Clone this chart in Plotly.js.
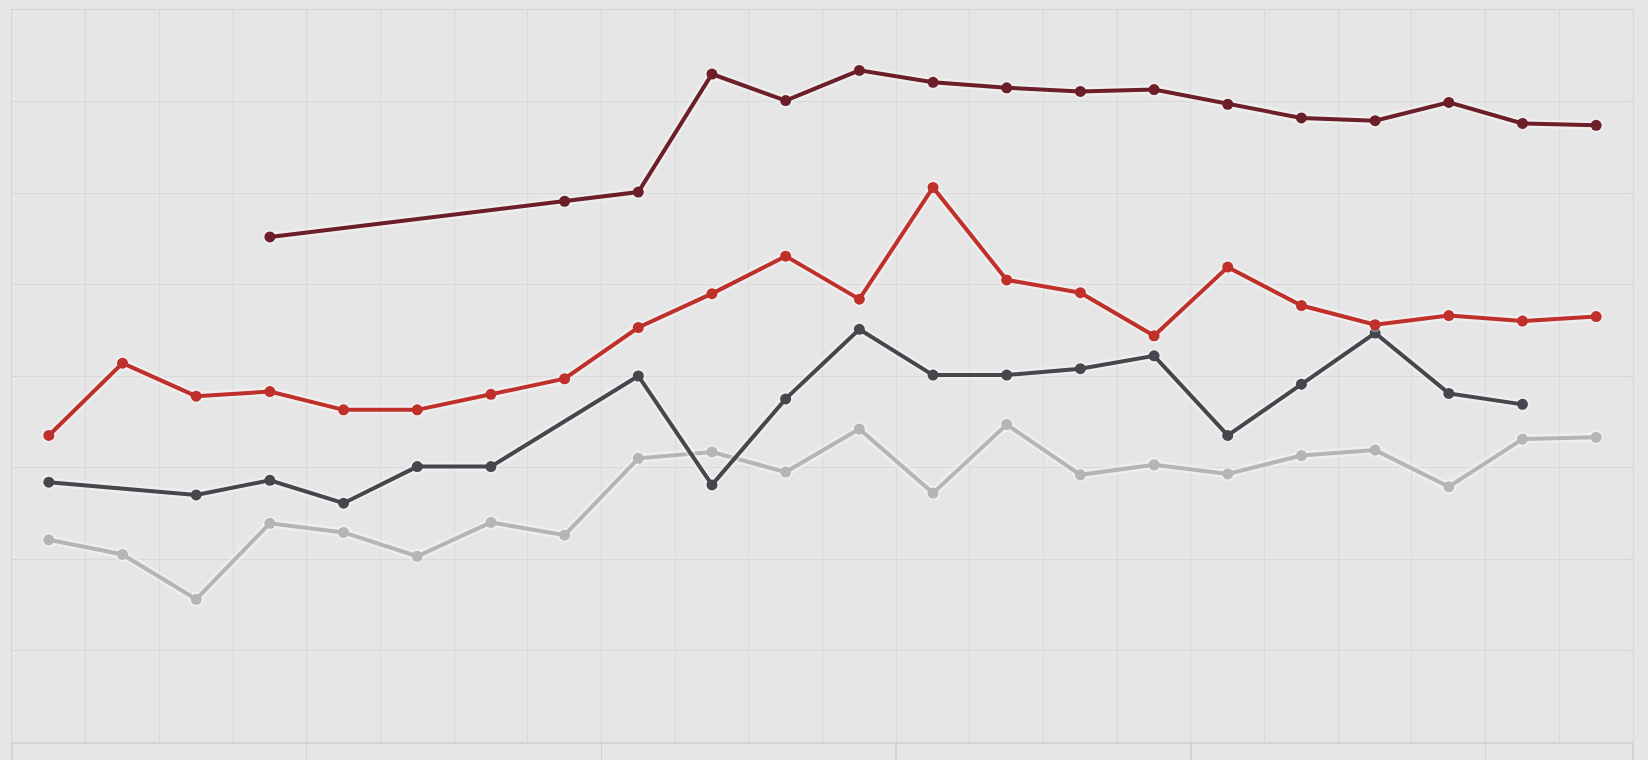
<!DOCTYPE html>
<html>
<head>
<meta charset="utf-8">
<script src="https://cdn.plot.ly/plotly-3.0.1.min.js"></script>
<style>
  html, body { margin: 0; padding: 0; overflow: hidden; background: #e6e6e6; }
  #chart { width: 1648px; height: 760px; }
</style>
</head>
<body>
<div id="chart"></div>
<script>
// Category levels (outer: year, inner: quarter)
var years = ['2019','2019','2019','2019','2020','2020','2020','2020','2021','2021','2021','2021',
             '2022','2022','2022','2022','2023','2023','2023','2023','2024','2024'];
var quarters = ['Q1','Q2','Q3','Q4','Q1','Q2','Q3','Q4','Q1','Q2','Q3','Q4',
                'Q1','Q2','Q3','Q4','Q1','Q2','Q3','Q4','Q1','Q2'];

// Series values (null = no observation)
var seriesMaroon = [null, null, null, 55.2, null, null, null, 59.1, 60.1, 73.0, 70.1, 73.4,
                    72.1, 71.5, 71.1, 71.3, 69.7, 68.2, 67.9, 69.9, 67.6, 67.4];
var seriesRed = [33.5, 41.4, 37.8, 38.3, 36.3, 36.3, 38.0, 39.7, 45.3, 49.0, 53.1, 48.4,
                 60.6, 50.5, 49.1, 44.4, 51.9, 47.7, 45.6, 46.6, 46.0, 46.5];
var seriesDark = [28.4, null, 27.0, 28.6, 26.1, 30.1, 30.1, null, 40.0, 28.1, 37.5, 45.1,
                  40.1, 40.1, 40.8, 42.2, 33.5, 39.1, 44.7, 38.1, 36.9, null];
var seriesLight = [22.1, 20.5, 15.6, 23.9, 22.9, 20.3, 24.0, 22.6, 31.0, 31.7, 29.5, 34.2,
                   27.2, 34.7, 29.2, 30.3, 29.3, 31.3, 31.9, 27.9, 33.1, 33.3];

var seriesNames = ['Series A', 'Series B', 'Series C', 'Series D'];
var seriesValues = [seriesLight, seriesDark, seriesRed, seriesMaroon];
var seriesColors = ['#b5b5b7', '#45474d', '#c0302a', '#6c1f29'];

// category keys built from the two levels
var periods = years.map(function (y, i) { return y + ' ' + quarters[i]; });

// year-group boundaries (in category index units), derived from the years array
var yearBounds = [-0.5];
for (var i = 1; i < years.length; i++) {
  if (years[i] !== years[i - 1]) yearBounds.push(i - 0.5);
}
yearBounds.push(years.length - 0.5);

var traces = [];
seriesValues.forEach(function (vals, i) {
  // soft light halo beneath the line
  traces.push({
    type: 'scatter', mode: 'lines+markers',
    x: periods, y: vals, connectgaps: true,
    line: { color: 'rgba(255,255,255,0.32)', width: 9 },
    marker: { color: 'rgba(255,255,255,0.32)', size: 15 },
    hoverinfo: 'skip', showlegend: false
  });
  traces.push({
    type: 'scatter', mode: 'lines+markers', name: seriesNames[i],
    x: periods, y: vals, connectgaps: true,
    line: { color: seriesColors[i], width: 4 },
    marker: { color: seriesColors[i], size: 11 }
  });
});
// invisible carrier trace for the year-divider axis
traces.push({
  type: 'scatter', mode: 'markers', xaxis: 'x2', yaxis: 'y',
  x: yearBounds, y: yearBounds.map(function () { return null; }),
  hoverinfo: 'skip', showlegend: false
});

var layout = {
  width: 1648, height: 760,
  margin: { l: 12, r: 15, t: 10, b: 18, pad: 0 },
  paper_bgcolor: '#e6e6e6',
  plot_bgcolor: '#e6e6e6',
  showlegend: false,
  font: { family: 'Open Sans, sans-serif', size: 12, color: '#555' },
  xaxis: {
    type: 'category',
    range: [-0.5, 21.5],
    tickson: 'boundaries',
    showgrid: true, gridcolor: '#d9d9d9', gridwidth: 1,
    showline: true, linecolor: '#d4d4d4', linewidth: 1.5, mirror: 'ticks',
    ticks: 'inside', ticklen: 5, tickcolor: '#d3d3d3',
    showticklabels: false,
    zeroline: false, automargin: false
  },
  xaxis2: {
    type: 'linear', overlaying: 'x', anchor: 'y', side: 'bottom',
    range: [-0.5, 21.5],
    tickmode: 'array', tickvals: yearBounds,
    ticks: 'outside', ticklen: 40, tickwidth: 1.5, tickcolor: '#d3d3d3',
    showticklabels: false, showgrid: false, showline: false, zeroline: false,
    automargin: false
  },
  yaxis: {
    range: [0, 80], dtick: 10, tick0: 0,
    showgrid: true, gridcolor: '#d9d9d9', gridwidth: 1,
    showline: true, linecolor: '#d6d6d6', linewidth: 1, mirror: 'ticks',
    ticks: 'inside', ticklen: 5, tickcolor: '#d3d3d3',
    showticklabels: false, zeroline: false, automargin: false
  }
};

Plotly.newPlot('chart', traces, layout, { displayModeBar: false, staticPlot: true });
</script>
</body>
</html>
